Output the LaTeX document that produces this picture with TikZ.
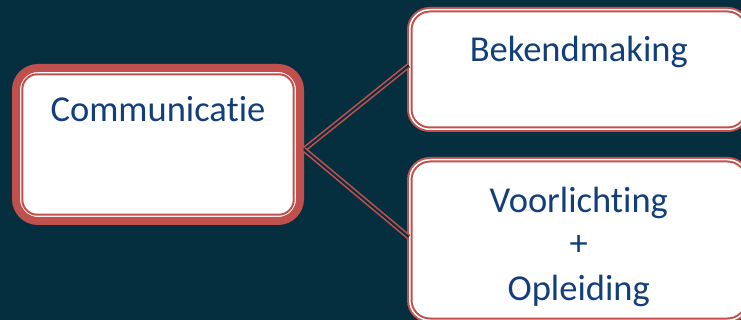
\documentclass[tikz,border=0pt]{standalone}
\usepackage{fontspec}
\setmainfont[Ligatures=NoCommon]{Carlito}
\definecolor{bgnavy}{HTML}{052F3F}
\definecolor{boxred}{HTML}{C0504D}
\definecolor{txtblue}{HTML}{123F7C}
\tikzset{
	mainbox/.style={draw=boxred, line width=8pt, fill=white, rounded corners=22pt,
		inner sep=0pt, minimum width=284pt, text=txtblue, align=center,
		font=\fontsize{36.5}{44}\selectfont},
	subbox/.style={draw=boxred, line width=2pt, double=white, double distance=1.5pt,
		fill=white, rounded corners=20pt, inner sep=0pt, minimum width=338pt,
		text=txtblue, align=center, font=\fontsize{36.5}{44}\selectfont},
	innerline/.style={draw=boxred, line width=2pt, rounded corners=15pt},
	link/.style={draw=boxred, line width=1.6pt, double=bgnavy, double distance=2pt}
}
\begin{document}
\begin{tikzpicture}[x=1pt, y=-1pt]
		\fill[bgnavy] (0,0) rectangle (741,320);
		\useasboundingbox (0,0) rectangle (741,320);
		%--box Communicatie
		\node[mainbox, text height=54pt, text depth=99pt] (comm) at (158,144.5) {Communicatie};
		\draw[innerline] ([shift={(10.3pt,-10.3pt)}]comm.north west) rectangle ([shift={(-10.3pt,10.3pt)}]comm.south east);
		
		%--box Bekendmaking
		\node[subbox, text height=52.25pt, text depth=67.25pt] (bek) at (578.75,69.5) {Bekendmaking};
		%--box Voorlichting + Opleiding (baseline = last line)
		\node[subbox, text height=140.25pt, text depth=20.25pt] (voorl) at (578.75,240) {Voorlichting\\+\\Opleiding};
		
		%--links
		\draw[link] ([yshift=-5pt]comm.east) -- ([yshift=4pt]bek.west);
		\draw[link] ([yshift=-5pt]comm.east) -- ([yshift=3pt]voorl.west);
	\end{tikzpicture}
\end{document}
